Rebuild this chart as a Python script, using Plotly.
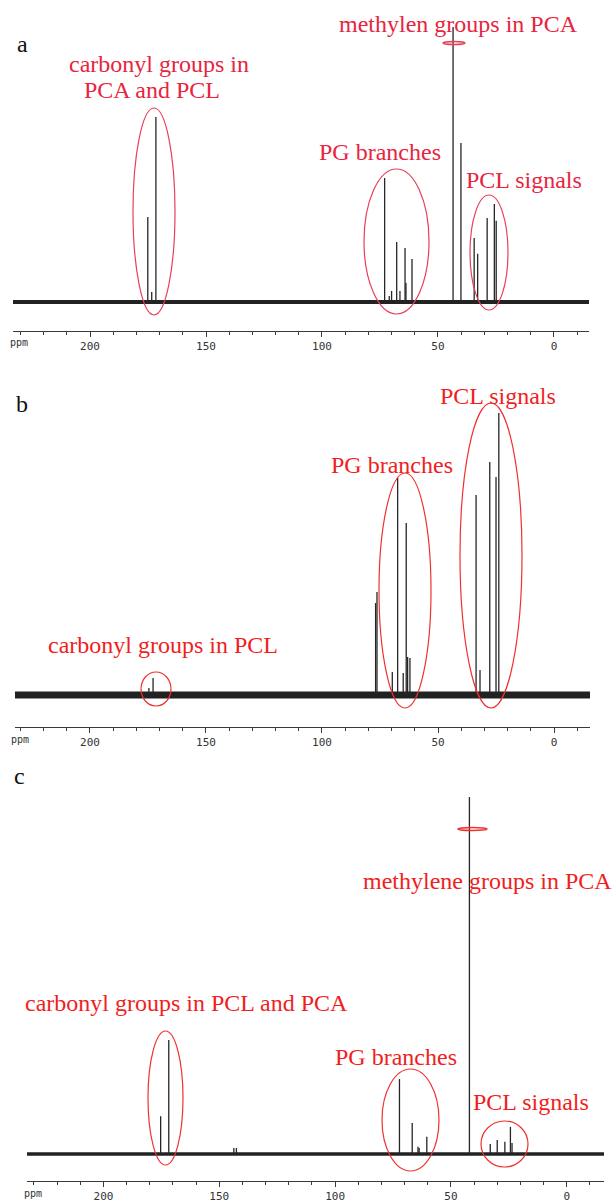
import plotly.graph_objects as go

W, H = 616, 1203

# ---------------- peak lists (chemical shift in ppm, relative intensity) ----------------
# Spectrum a
a_ppm = [175.1, 173.4, 171.6, 73.0, 71.0, 70.0, 67.8, 66.4, 64.2, 63.8, 61.2,
         43.5, 40.1, 34.4, 32.9, 28.8, 25.7, 24.9]
a_int = [30.9, 3.6, 67.3, 45.1, 2.2, 4.0, 21.8, 4.0, 19.6, 6.9, 15.6,
         100.0, 57.8, 23.3, 17.5, 30.5, 35.6, 29.5]

# Spectrum b
b_ppm = [174.6, 172.8, 76.9, 76.3, 69.7, 67.4, 65.0, 63.7, 63.1, 62.1,
         33.6, 31.9, 27.7, 25.0, 23.8]
b_int = [2.5, 6.0, 32.6, 36.5, 8.2, 77.0, 7.8, 61.0, 13.5, 13.1,
         70.9, 8.9, 82.6, 77.3, 100.0]

# Spectrum c
c_ppm = [175.3, 171.8, 143.7, 142.6, 72.2, 66.7, 64.2, 63.7, 60.4,
         42.0, 33.0, 30.0, 26.7, 24.3, 23.6]
c_int = [10.6, 31.9, 1.7, 1.7, 21.0, 8.7, 2.0, 1.7, 4.8,
         100.0, 2.8, 3.9, 3.4, 7.6, 3.1]

tick_vals = [200, 150, 100, 50, 0]
tick_text = ["200", "150", "100", "50", "0"]

# ---------------- panel geometry (pixels) ----------------
panels = {
    "a": dict(ppm=a_ppm, inten=a_int, x0=13, x1=589, ppm0=233.2, ppm1=-15.1,
              dom_top=0, axis_y=331, base_y=302, top_y=27, band=4, ppm_lab_x=19),
    "b": dict(ppm=b_ppm, inten=b_int, x0=15, x1=590, ppm0=232.3, ppm1=-15.5,
              dom_top=360, axis_y=727, base_y=695, top_y=413, band=7, ppm_lab_x=20),
    "c": dict(ppm=c_ppm, inten=c_int, x0=27, x1=604, ppm0=233.0, ppm1=-16.1,
              dom_top=770, axis_y=1181, base_y=1154, top_y=797, band=3.5, ppm_lab_x=33),
}


def px(x, y):
    """pixel position -> paper coordinates"""
    return x / W, 1 - y / H


fig = go.Figure()
layout_axes = {}

for i, (name, p) in enumerate(panels.items(), start=1):
    xa = "x" if i == 1 else f"x{i}"
    ya = "y" if i == 1 else f"y{i}"

    # vertical sticks for each resonance
    xs, ys = [], []
    for s, h in zip(p["ppm"], p["inten"]):
        xs += [s, s, None]
        ys += [0, h, None]
    # noisy baseline shown as a dark band across the spectral window
    fig.add_trace(go.Scatter(x=[p["ppm0"], p["ppm1"]], y=[0, 0], mode="lines",
                             line=dict(color="#222", width=p["band"]),
                             xaxis=xa, yaxis=ya, hoverinfo="skip", showlegend=False))
    fig.add_trace(go.Scatter(x=xs, y=ys, mode="lines",
                             line=dict(color="#262626", width=1.3),
                             xaxis=xa, yaxis=ya, showlegend=False))

    unit = (p["base_y"] - p["top_y"]) / 100.0
    ylo = -(p["axis_y"] - p["base_y"]) / unit
    yhi = (p["base_y"] - p["dom_top"]) / unit

    xkey = "xaxis" if i == 1 else f"xaxis{i}"
    ykey = "yaxis" if i == 1 else f"yaxis{i}"
    layout_axes[xkey] = dict(
        domain=[p["x0"] / W, p["x1"] / W], range=[p["ppm0"], p["ppm1"]],
        anchor=ya, showgrid=False, zeroline=False, showline=True,
        linecolor="#3a3a3a", linewidth=1, ticks="outside", ticklen=5,
        tickcolor="#3a3a3a", tickwidth=1, tickvals=tick_vals, ticktext=tick_text,
        tickfont=dict(family="DejaVu Sans Mono", size=11, color="#333"),
        minor=dict(dtick=10, tick0=0, ticks="outside", ticklen=3,
                   tickcolor="#3a3a3a", tickwidth=1),
        fixedrange=True,
    )
    layout_axes[ykey] = dict(
        domain=[1 - p["axis_y"] / H, 1 - p["dom_top"] / H], range=[ylo, yhi],
        anchor=xa, visible=False, fixedrange=True,
    )

fig.update_layout(**layout_axes)

# ---------------- labels ----------------
RED_A = "#e8243f"
RED = "#f01e1e"
ann = []


def label(text, x, y, color, size=24, family="Liberation Serif"):
    xp, yp = px(x, y)
    ann.append(dict(text=text, x=xp, y=yp, xref="paper", yref="paper",
                    showarrow=False, xanchor="center", yanchor="middle",
                    font=dict(family=family, size=size, color=color)))


# panel letters
label("a", 22, 44, "#111")
label("b", 22, 404, "#111")
label("c", 20, 776, "#111")

# "ppm" unit labels
for p in panels.values():
    label("ppm", p["ppm_lab_x"], p["axis_y"] + 12, "#333", size=10, family="DejaVu Sans Mono")

# spectrum a
label("carbonyl groups in", 159, 64, RED_A)
label("PCA and PCL", 152, 90, RED_A)
label("methylen groups in PCA", 458, 24, RED_A)
label("PG branches", 380, 152, RED_A)
label("PCL signals", 524, 180, RED_A)

# spectrum b
label("PCL signals", 498, 396, RED)
label("PG branches", 392, 465, RED)
label("carbonyl groups in PCL", 163, 645, RED)

# spectrum c
label("methylene groups in PCA", 487, 881, RED)
label("carbonyl groups in PCL and PCA", 187, 1003, RED)
label("PG branches", 396, 1057, RED)
label("PCL signals", 531, 1102, RED)

fig.update_layout(annotations=ann)

# ---------------- ellipses around signal groups ----------------
ellipses = [
    # (x0, x1, y0, y1, colour, width)
    (133, 175, 108, 315, "#e8405a", 1.2),
    (364, 429, 169, 314, "#e8405a", 1.2),
    (470, 508, 195, 310, "#e8405a", 1.2),
    (443, 465, 41.5, 44.5, "#e8405a", 1.6),
    (141, 171, 672, 706, "#f03030", 1.2),
    (379, 431, 473, 708, "#f03030", 1.2),
    (460, 522, 403, 708, "#f03030", 1.2),
    (148, 183, 1031, 1165, "#f03030", 1.2),
    (382, 439, 1069, 1171, "#f03030", 1.2),
    (481, 528, 1121, 1167, "#f03030", 1.2),
    (458, 487, 827.5, 830.5, "#f03030", 1.6),
]
shapes = []
for x0, x1, y0, y1, col, lw in ellipses:
    a0, b0 = px(x0, y1)
    a1, b1 = px(x1, y0)
    shapes.append(dict(type="circle", xref="paper", yref="paper",
                       x0=a0, x1=a1, y0=b0, y1=b1,
                       line=dict(color=col, width=lw), fillcolor="rgba(0,0,0,0)"))
fig.update_layout(shapes=shapes)

fig.update_layout(width=W, height=H, margin=dict(l=0, r=0, t=0, b=0),
                  paper_bgcolor="white", plot_bgcolor="white", showlegend=False)

fig.write_html("out.html", config={"displayModeBar": False})
